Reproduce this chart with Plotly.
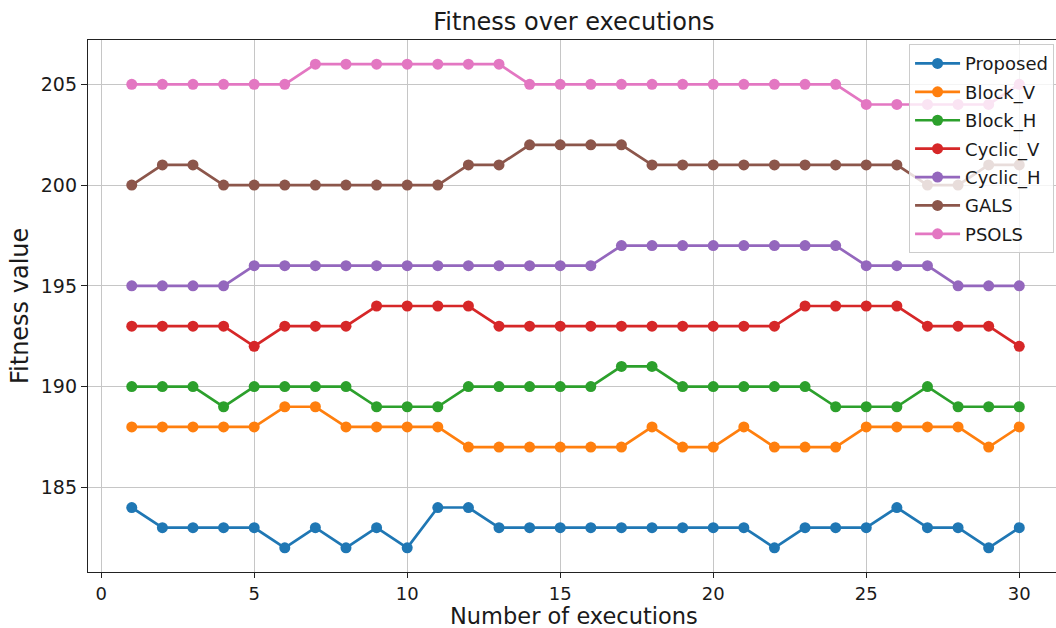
import plotly.graph_objects as go

# Fitness value per execution for each method
executions = list(range(1, 31))

proposed = [184, 183, 183, 183, 183, 182, 183, 182, 183, 182,
            184, 184, 183, 183, 183, 183, 183, 183, 183, 183,
            183, 182, 183, 183, 183, 184, 183, 183, 182, 183]
block_v = [188, 188, 188, 188, 188, 189, 189, 188, 188, 188,
           188, 187, 187, 187, 187, 187, 187, 188, 187, 187,
           188, 187, 187, 187, 188, 188, 188, 188, 187, 188]
block_h = [190, 190, 190, 189, 190, 190, 190, 190, 189, 189,
           189, 190, 190, 190, 190, 190, 191, 191, 190, 190,
           190, 190, 190, 189, 189, 189, 190, 189, 189, 189]
cyclic_v = [193, 193, 193, 193, 192, 193, 193, 193, 194, 194,
            194, 194, 193, 193, 193, 193, 193, 193, 193, 193,
            193, 193, 194, 194, 194, 194, 193, 193, 193, 192]
cyclic_h = [195, 195, 195, 195, 196, 196, 196, 196, 196, 196,
            196, 196, 196, 196, 196, 196, 197, 197, 197, 197,
            197, 197, 197, 197, 196, 196, 196, 195, 195, 195]
gals = [200, 201, 201, 200, 200, 200, 200, 200, 200, 200,
        200, 201, 201, 202, 202, 202, 202, 201, 201, 201,
        201, 201, 201, 201, 201, 201, 200, 200, 201, 201]
psols = [205, 205, 205, 205, 205, 205, 206, 206, 206, 206,
         206, 206, 206, 205, 205, 205, 205, 205, 205, 205,
         205, 205, 205, 205, 204, 204, 204, 204, 204, 205]

series_names = ["Proposed", "Block_V", "Block_H", "Cyclic_V", "Cyclic_H", "GALS", "PSOLS"]
series_values = [proposed, block_v, block_h, cyclic_v, cyclic_h, gals, psols]
colors = ["#1f77b4", "#ff7f0e", "#2ca02c", "#d62728", "#9467bd", "#8c564b", "#e377c2"]

x_ticks = [0, 5, 10, 15, 20, 25, 30]
y_ticks = [185, 190, 195, 200, 205]

FONT = "DejaVu Sans"
TEXT = "#1a1a1a"

fig = go.Figure()
for name, vals, col in zip(series_names, series_values, colors):
    fig.add_trace(go.Scatter(
        x=executions, y=vals, name=name, legendgroup=name,
        mode="lines+markers",
        line=dict(color=col, width=2.7),
        marker=dict(symbol="circle", size=11, color=col),
    ))

fig.update_layout(
    width=1056, height=628,
    margin=dict(l=88, r=0, t=40, b=56),
    plot_bgcolor="white", paper_bgcolor="white",
    font=dict(family=FONT, color=TEXT),
    title=dict(text="Fitness over executions", font=dict(size=24, family=FONT, color=TEXT),
               x=0.502, xref="paper", xanchor="center",
               y=1 - 22 / 628, yref="container", yanchor="middle"),
    showlegend=True,
    legend=dict(
        x=0.998, y=0.992, xanchor="right", yanchor="top",
        bgcolor="rgba(255,255,255,0.8)", bordercolor="#cccccc", borderwidth=1,
        font=dict(size=18, family=FONT, color=TEXT),
        tracegroupgap=2, itemwidth=45,
    ),
    annotations=[
        dict(text="Number of executions", xref="paper", yref="paper",
             x=0.502, y=-43 / 532, xanchor="center", yanchor="middle",
             height=21, borderpad=0,
             showarrow=False, font=dict(size=22.5, family=FONT, color=TEXT)),
        dict(text="Fitness value", xref="paper", yref="paper",
             x=-68 / 968, y=0.5, xanchor="center", yanchor="middle", textangle=-90,
             showarrow=False, font=dict(size=24, family=FONT, color=TEXT)),
    ],
)

fig.update_xaxes(
    range=[-0.43, 31.2],
    tickvals=x_ticks, ticktext=[str(t) for t in x_ticks],
    tickfont=dict(size=18, family=FONT, color=TEXT),
    ticks="outside", ticklen=5, tickwidth=1.3, tickcolor="#222222",
    showline=True, linecolor="#222222", linewidth=1.4, mirror=True,
    showgrid=True, gridcolor="#c6c6c6", gridwidth=1.3,
    zeroline=False,
)
fig.update_yaxes(
    range=[180.8, 207.2],
    tickvals=y_ticks, ticktext=[str(t) for t in y_ticks],
    tickfont=dict(size=19, family=FONT, color=TEXT),
    ticks="outside", ticklen=6, tickwidth=1.3, tickcolor="#222222",
    showline=True, linecolor="#222222", linewidth=1.4, mirror=False,
    showgrid=True, gridcolor="#c6c6c6", gridwidth=1.3,
    zeroline=False,
)

fig.write_html("out.html")
